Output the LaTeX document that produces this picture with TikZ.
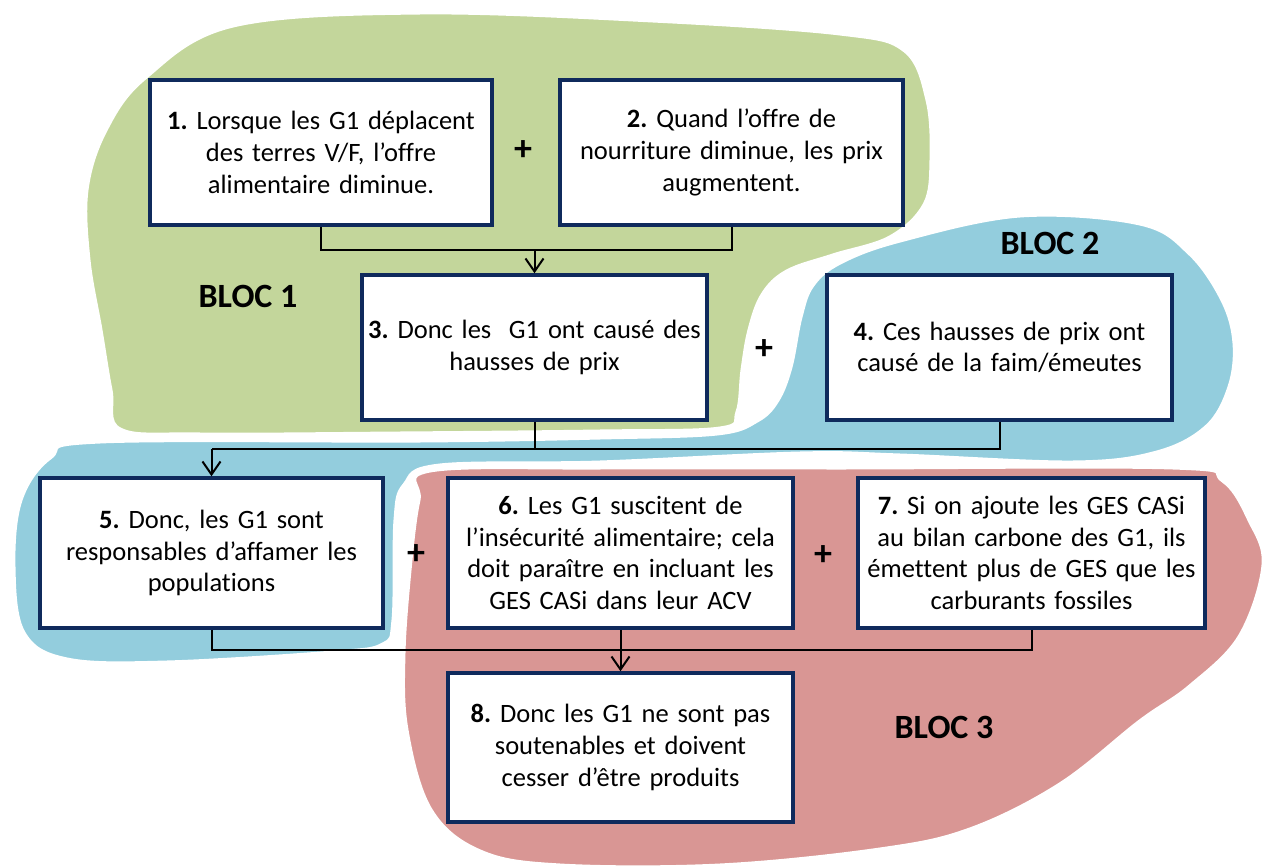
\documentclass[tikz,border=0pt]{standalone}
\usepackage{fontspec}
\setmainfont{Carlito}[Ligatures=NoCommon]
\usetikzlibrary{arrows.meta}
\definecolor{bgreen}{HTML}{C3D69B}
\definecolor{bblue}{HTML}{93CDDD}
\definecolor{bred}{HTML}{D99694}
\definecolor{boxnavy}{HTML}{0F2A5C}
\frenchspacing
\begin{document}
\begin{tikzpicture}[x=1pt,y=-1pt,
  box/.style={draw=boxnavy, line width=3.5pt, fill=white, inner sep=0pt,
    text width=335pt, align=center, font=\fontsize{26.5}{31.7}\selectfont},
  conn/.style={draw=black, line width=2pt},
  arr/.style={conn, -{Straight Barb[length=13pt,width=18pt]}},
  plus/.style={font=\fontsize{36}{40}\selectfont\bfseries},
  bloc/.style={font=\fontsize{34}{38}\selectfont\bfseries},
  blob/.style={draw=white, line width=5pt}]
\useasboundingbox (0,0) rectangle (1262,867);
\fill[white] (0,0) rectangle (1262,867);

% blobs
\filldraw[blob, fill=bblue] plot[smooth cycle, tension=0.6] coordinates {
  (20,500) (50,457) (100,441) (420,440) (600,437) (717,433) (757,420)
  (777,400) (790,367) (800,317) (812,285) (840,262) (900,240) (1020,215)
  (1140,223) (1190,253) (1223,300) (1235,343) (1230,387) (1207,427)
  (1157,453) (1073,463) (900,456) (800,454) (600,463) (440,466) (405,485)
  (396,520) (394,620) (383,645) (333,653) (167,663) (67,660) (23,633) (13,567)};
\filldraw[blob, fill=bgreen] plot[smooth cycle, tension=0.6] coordinates {
  (86,190) (105,130) (145,77) (233,25) (420,12) (653,20) (840,33) (905,50)
  (928,100) (932,160) (925,205) (890,238) (833,256) (787,272) (763,295)
  (750,330) (743,370) (738,412) (720,429) (600,432) (400,434) (200,435)
  (120,430) (110,390) (100,330) (88,260)};
\filldraw[blob, fill=bred] plot[smooth cycle, tension=0.6] coordinates {
  (430,470) (600,467) (840,467) (1173,467) (1223,480) (1250,520) (1264,565)
  (1240,637) (1190,687) (1140,722) (1060,785) (970,830) (880,850) (720,866)
  (560,866) (480,852) (430,810) (406,730) (403,653) (410,560) (418,500)};

% boxes
\node[box, minimum width=342pt, minimum height=145pt] (b1) at (321,152.5)
  {\textbf{1.} Lorsque les G1 déplacent\\des terres V/F, l’offre\\alimentaire diminue.};
\node[box, minimum width=343pt, minimum height=145pt] (b2) at (731.5,152.5)
  {\textbf{2.} Quand l’offre de\\nourriture diminue, les prix\\augmentent.};
\node[box, minimum width=345pt, minimum height=145pt] (b3) at (534.5,347.5)
  {\textbf{3.} Donc les \ G1 ont causé des\\hausses de prix};
\node[box, minimum width=345pt, minimum height=145pt] (b4) at (999.5,347.5)
  {\textbf{4.} Ces hausses de prix ont\\causé de la faim/émeutes};
\node[box, minimum width=343pt, minimum height=150pt] (b5) at (211.5,553)
  {\textbf{5.} Donc, les G1 sont\\responsables d’affamer les\\populations};
\node[box, minimum width=345pt, minimum height=150pt] (b6) at (620.5,553)
  {\textbf{6.} Les G1 suscitent de\\l’insécurité alimentaire; cela\\doit paraître en incluant les\\GES CASi dans leur ACV};
\node[box, minimum width=347pt, minimum height=150pt] (b7) at (1031.5,553)
  {\textbf{7.} Si on ajoute les GES CASi\\au bilan carbone des G1, ils\\émettent plus de GES que les\\carburants fossiles};
\node[box, minimum width=345pt, minimum height=149pt] (b8) at (620.5,747.5)
  {\textbf{8.} Donc les G1 ne sont pas\\soutenables et doivent\\cesser d’être produits};

% plus signs
\node[plus] (p1) at (523,151) {+};
\node[plus] (p2) at (764,350) {+};
\node[plus] (p3) at (416,555) {+};
\node[plus] (p4) at (823,556) {+};

% bloc labels
\node[bloc] (l1) at (248,296) {BLOC 1};
\node[bloc] (l2) at (1050,243) {BLOC 2};
\node[bloc] (l3) at (944,727) {BLOC 3};

% connectors
\coordinate (j1) at (534.5,250);
\coordinate (j2) at (211.5,449);
\coordinate (j3) at (620.5,650);
\draw[conn] (b1.south) |- (j1) -| (b2.south);
\draw[arr] (j1) -- (b3.north);
\draw[conn] (b4.south) |- (j2);
\draw[conn] (b3.south) -- (b3.south |- j2);
\draw[arr] (j2) -- (b5.north);
\draw[conn] (b5.south) |- (j3);
\draw[conn] (b7.south) |- (j3);
\draw[arr] (b6.south) -- (b8.north);
\end{tikzpicture}
\end{document}
